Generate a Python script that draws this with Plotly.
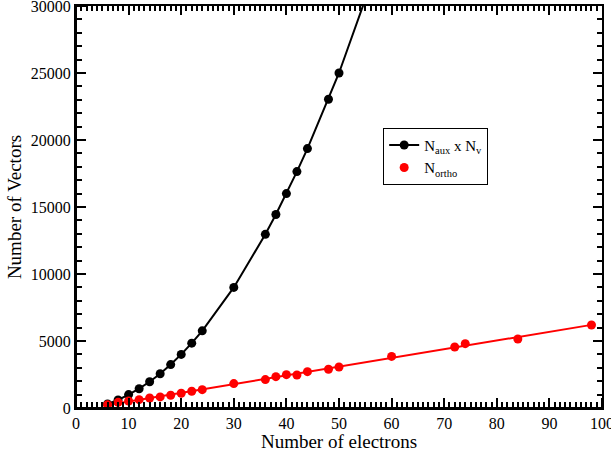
import numpy as np
import plotly.graph_objects as go

# Data
n_electrons_aux = [6, 8, 10, 12, 14, 16, 18, 20, 22, 24, 30, 36, 38, 40, 42, 44, 48, 50, 60]
n_aux_x_nv = [300, 600, 1000, 1440, 1960, 2560, 3240, 4000, 4840, 5760, 9000, 12960, 14440,
              16000, 17640, 19360, 23040, 25000, 36000]

n_electrons_ortho = [6, 8, 10, 12, 14, 16, 18, 20, 22, 24, 30, 36, 38, 40, 42, 44, 48, 50,
                     60, 72, 74, 84, 98]
n_ortho = [250, 420, 520, 620, 750, 830, 950, 1100, 1250, 1370, 1820, 2120, 2340, 2490,
           2460, 2710, 2890, 3060, 3850, 4550, 4800, 5150, 6190]

x_range = [0, 100]
y_range = [0, 30000]
x_major, x_minor = 10, 1
y_major, y_minor = 5000, 1000

# linear fit of N_ortho
coef = np.polyfit(n_electrons_ortho, n_ortho, 1)
fit_x = np.array([min(n_electrons_ortho), max(n_electrons_ortho)])
fit_y = np.polyval(coef, fit_x)

font = "Liberation Serif, Times New Roman, serif"

fig = go.Figure()
fig.add_trace(go.Scatter(
    x=n_electrons_aux, y=n_aux_x_nv, mode="lines+markers",
    name="N<sub>aux</sub> x N<sub>v</sub>",
    line=dict(color="black", width=2),
    marker=dict(color="black", size=9),
))
fig.add_trace(go.Scatter(
    x=fit_x, y=fit_y, mode="lines", showlegend=False,
    line=dict(color="red", width=2),
))
fig.add_trace(go.Scatter(
    x=n_electrons_ortho, y=n_ortho, mode="markers",
    name="N<sub>ortho</sub>",
    marker=dict(color="red", size=9),
))
# invisible traces that create the tick-only overlay axes
for k in (2, 3, 4, 5):
    fig.add_trace(go.Scatter(
        x=[x_range[0]], y=[y_range[0]], xaxis=f"x{k}", yaxis=f"y{k}",
        mode="markers", marker=dict(opacity=0), showlegend=False, hoverinfo="skip",
    ))

base = dict(
    showgrid=False, zeroline=False, automargin=False,
    showline=True, linecolor="black", linewidth=2,
    tickcolor="black",
)


def top_right_axis(overlay, side, anchor, rng, dtick, length, width):
    # drawn on top/right edge, ticks pointing into the plot
    return dict(
        overlaying=overlay, side=side, anchor=anchor, range=rng,
        tickmode="linear", tick0=0, dtick=dtick,
        ticks="inside", ticklen=length, tickwidth=width,
        showticklabels=False, **base,
    )


def bottom_left_axis(overlay, side, rng, dtick, length, width):
    # placed on the bottom/left edge, with ticks pointing into the plot
    return dict(
        overlaying=overlay, side=side, anchor="free", position=0, range=rng,
        tickmode="linear", tick0=0, dtick=dtick,
        ticks="outside", ticklen=length, tickwidth=width,
        showticklabels=False, **base,
    )


fig.update_layout(
    xaxis=dict(
        range=x_range, tickmode="linear", tick0=0, dtick=x_major,
        ticks="", ticklabeloverflow="allow",
        tickfont=dict(family=font, size=16, color="black"),
        title=dict(text="Number of electrons", font=dict(family=font, size=19, color="black"), standoff=2),
        **base,
    ),
    yaxis=dict(
        range=y_range, tickmode="linear", tick0=0, dtick=y_major, tickformat="d",
        ticks="", ticklabeloverflow="allow",
        tickfont=dict(family=font, size=16, color="black"),
        title=dict(text="Number of Vectors", font=dict(family=font, size=19, color="black"), standoff=4),
        **base,
    ),
    xaxis2=top_right_axis("x", "top", "y2", x_range, x_major, 9, 2),
    yaxis2=top_right_axis("y", "right", "x2", y_range, y_major, 9, 2),
    xaxis4=top_right_axis("x", "top", "y4", x_range, x_minor, 5, 1.5),
    yaxis4=top_right_axis("y", "right", "x4", y_range, y_minor, 5, 1.5),
    xaxis3=bottom_left_axis("x", "top", x_range, x_major, 9, 2),
    yaxis3=bottom_left_axis("y", "right", y_range, y_major, 9, 2),
    xaxis5=bottom_left_axis("x", "top", x_range, x_minor, 5, 1.5),
    yaxis5=bottom_left_axis("y", "right", y_range, y_minor, 5, 1.5),
    width=611, height=452,
    margin=dict(l=76, r=9, t=6, b=44),
    plot_bgcolor="white", paper_bgcolor="white",
    legend=dict(
        x=0.584, y=0.697, xanchor="left", yanchor="top",
        bordercolor="black", borderwidth=1, bgcolor="white",
        font=dict(family=font, size=15, color="black"),
        tracegroupgap=0, itemwidth=30,
    ),
)

fig.write_html("out.html")
